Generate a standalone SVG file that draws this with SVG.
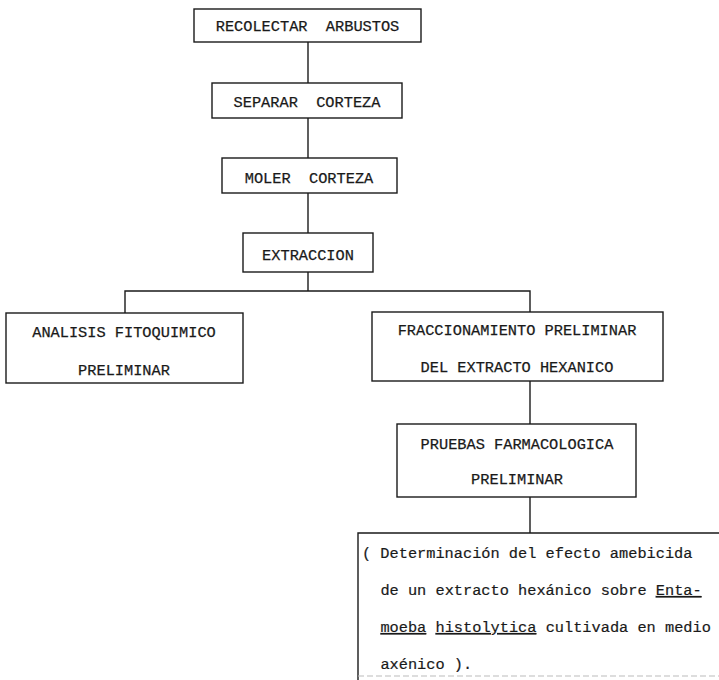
<svg xmlns="http://www.w3.org/2000/svg" width="719" height="680" viewBox="0 0 719 680">
<style>
.box{fill:none;stroke:#1a1a1a;stroke-width:1.4}
.ln{fill:none;stroke:#1a1a1a;stroke-width:1.4}
.t{font-family:"Liberation Mono","DejaVu Sans Mono",monospace;font-size:15.3px;fill:#1a1a1a;stroke:#1a1a1a;stroke-width:0.25;text-anchor:middle;white-space:pre}
.p{font-family:"Liberation Mono","DejaVu Sans Mono",monospace;font-size:15.3px;fill:#1a1a1a;stroke:#1a1a1a;stroke-width:0.2;white-space:pre}
</style>
<rect width="719" height="680" fill="#fff"/>
<g id="connectors">
<line class="ln" x1="308" y1="42" x2="308" y2="83"/>
<line class="ln" x1="308" y1="118" x2="308" y2="158"/>
<line class="ln" x1="308" y1="193" x2="308" y2="233"/>
<polyline class="ln" points="308,272 308,291"/>
<polyline class="ln" points="125,313 125,291 530,291 530,312"/>
<line class="ln" x1="530" y1="381" x2="530" y2="424"/>
<line class="ln" x1="530" y1="497" x2="530" y2="533"/>
</g>
<g id="n1">
<rect class="box" x="194" y="9" width="227" height="33"/>
<text class="t" x="307.5" y="31">RECOLECTAR  ARBUSTOS</text>
</g>
<g id="n2">
<rect class="box" x="212" y="83" width="190" height="35"/>
<text class="t" x="307" y="107">SEPARAR  CORTEZA</text>
</g>
<g id="n3">
<rect class="box" x="222" y="158" width="175" height="35"/>
<text class="t" x="309" y="183">MOLER  CORTEZA</text>
</g>
<g id="n4">
<rect class="box" x="243" y="233" width="130" height="39"/>
<text class="t" x="308" y="260">EXTRACCION</text>
</g>
<g id="n5">
<rect class="box" x="6" y="313" width="237" height="70"/>
<text class="t" x="124" y="337">ANALISIS FITOQUIMICO</text>
<text class="t" x="124" y="375">PRELIMINAR</text>
</g>
<g id="n6">
<rect class="box" x="372" y="312" width="291" height="69"/>
<text class="t" x="517" y="335">FRACCIONAMIENTO PRELIMINAR</text>
<text class="t" x="517" y="372">DEL EXTRACTO HEXANICO</text>
</g>
<g id="n7">
<rect class="box" x="397" y="424" width="239" height="73"/>
<text class="t" x="517" y="449">PRUEBAS FARMACOLOGICA</text>
<text class="t" x="517" y="484">PRELIMINAR</text>
</g>
<g id="n8">
<polyline class="ln" points="719,533 358,533 358,680"/>
<line x1="358" y1="676" x2="719" y2="676" stroke="#bbb" stroke-width="1" stroke-dasharray="6,3"/>
<text class="p" x="362" y="558">( Determinación del efecto amebicida</text>
<text class="p" x="380.4" y="595">de un extracto hexánico sobre <tspan text-decoration="underline">Enta-</tspan></text>
<text class="p" x="380.4" y="632"><tspan text-decoration="underline">moeba</tspan> <tspan text-decoration="underline">histolytica</tspan> cultivada en medio</text>
<text class="p" x="380.4" y="669">axénico ).</text>
</g>
</svg>
